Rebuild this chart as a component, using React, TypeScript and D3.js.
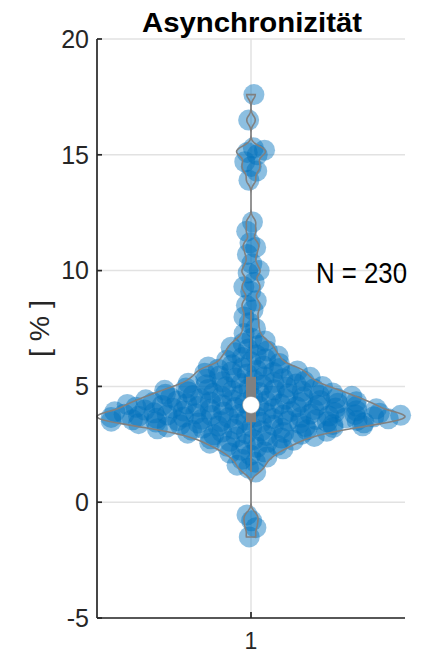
import React from 'react';
import * as d3 from 'd3';

const titleText = 'Asynchronizität';
const yLabelText = '[ % ]';
const nLabelText = 'N = 230';
const yTicks = [-5, 0, 5, 10, 15, 20];
const xTicks = [1];
const xTickLabels = ['1'];

const negValues = [-1.5, -1.1, -0.8, -0.55];
const lowValues = [
  1.3, 1.47, 1.6, 1.73, 1.85, 1.95, 2.04, 2.12,
  2.18, 2.24, 2.31, 2.37, 2.42, 2.46, 2.5, 2.55, 2.59, 2.63,
  2.67, 2.7, 2.74, 2.77, 2.81, 2.84, 2.88,
  2.91, 2.93, 2.96, 2.98, 3.01, 3.03, 3.06, 3.08, 3.11, 3.13,
  3.16, 3.17, 3.19, 3.2, 3.22, 3.24, 3.25, 3.27, 3.29, 3.3, 3.32, 3.34, 3.35, 3.37, 3.39,
  3.41, 3.42, 3.43, 3.45, 3.46, 3.47, 3.48, 3.5, 3.51, 3.52, 3.53, 3.55, 3.56, 3.57, 3.58, 3.6, 3.61, 3.62, 3.64,
];
const highValues = [
  3.65, 3.66, 3.67, 3.68, 3.69, 3.7, 3.71, 3.72, 3.74, 3.75, 3.76, 3.77, 3.78, 3.79, 3.8, 3.81, 3.82, 3.84, 3.85, 3.86, 3.87, 3.89,
  3.91, 3.92, 3.94, 3.95, 3.97, 3.98, 4.0, 4.01, 4.03, 4.04, 4.06, 4.07, 4.09, 4.1, 4.12, 4.13, 4.14,
  4.16, 4.18, 4.19, 4.21, 4.22, 4.24, 4.25, 4.27, 4.28, 4.3, 4.31, 4.33, 4.34, 4.36, 4.37, 4.39,
  4.41, 4.42, 4.44, 4.47, 4.49, 4.51, 4.52, 4.54, 4.56, 4.57, 4.59, 4.61, 4.62, 4.64,
  4.66, 4.68, 4.7, 4.72, 4.74, 4.77, 4.79, 4.81, 4.83, 4.85, 4.87, 4.89,
  4.91, 4.93, 4.96, 4.98, 5.0, 5.05, 5.07, 5.1, 5.12, 5.14,
  5.17, 5.2, 5.22, 5.28, 5.31, 5.33, 5.36, 5.39,
  5.42, 5.45, 5.48, 5.54, 5.57, 5.6, 5.63,
  5.67, 5.7, 5.74, 5.77, 5.8, 5.84, 5.88,
  5.93, 5.99, 6.06, 6.13,
  6.19, 6.25, 6.31, 6.37,
  6.45, 6.53, 6.61,
  6.69, 6.77, 6.86,
  6.96, 7.08,
  7.28, 7.5, 7.75,
];
const tailValues = [
  8.0, 8.3, 8.5, 8.7, 9.1, 9.3, 9.5, 9.9, 10.0, 10.3, 10.7, 11.0, 11.2, 11.7, 12.1,
  13.9, 14.3, 14.5, 14.7, 15.0, 15.1, 15.2, 15.3, 16.5, 17.6,
];

const BANDWIDTH = 0.18;
const BLUE = '#0072BD';
const GRAY = '#808080';
const AX = '#262626';
const FONT = '"Liberation Sans", Arial, Helvetica, sans-serif';

export default function App() {
  const values = [...negValues, ...lowValues, ...highValues, ...tailValues];
  const sorted = values.slice().sort(d3.ascending);
  const n = sorted.length;

  const x = d3.scaleLinear().domain([0.5, 1.5]).range([97, 405]);
  const y = d3.scaleLinear().domain([-5, 20]).range([618, 39]);

  const med = d3.median(sorted) as number;
  const bw = BANDWIDTH;
  const vmin = sorted[0];
  const vmax = sorted[n - 1];
  const NG = 600;
  const grid = d3.range(0, NG + 1).map((i) => vmin + ((vmax - vmin) * i) / NG);
  const dens = grid.map((g) => d3.sum(sorted, (v) => Math.exp(-0.5 * ((g - v) / bw) ** 2)));
  const dmax = d3.max(dens) as number;
  const halfW = 0.5;
  const wAt = (v: number) => {
    const t = ((v - vmin) / (vmax - vmin)) * NG;
    const i = Math.max(0, Math.min(NG - 1, Math.floor(t)));
    const f = t - i;
    return ((dens[i] * (1 - f) + dens[i + 1] * f) / dmax) * halfW;
  };

  const outlinePts: [number, number][] = [
    ...grid.map((g, i) => [x(1 - (dens[i] / dmax) * halfW), y(g)] as [number, number]),
    ...grid.slice().reverse().map((g, k) => {
      const i = grid.length - 1 - k;
      return [x(1 + (dens[i] / dmax) * halfW), y(g)] as [number, number];
    }),
  ];
  const outline = d3.line().curve(d3.curveLinearClosed)(outlinePts) || '';

  const q1 = d3.quantile(sorted, 0.25) as number;
  const q3 = d3.quantile(sorted, 0.75) as number;
  const iqr = q3 - q1;
  const upW = d3.max(sorted.filter((v) => v <= q3 + 1.5 * iqr)) as number;
  const loW = d3.min(sorted.filter((v) => v >= q1 - 1.5 * iqr)) as number;

  const golden = 0.6180339887;
  const pts = sorted.map((v, i) => {
    const j = ((i * golden + 0.31) % 1) * 2 - 1;
    return { cx: x(1 + j * wAt(v)), cy: y(v) };
  });

  const x0 = x(0.5), x1 = x(1.5), yTop = y(20), yBot = y(-5);

  return (
    <svg width={422} height={652} style={{ position: 'absolute', left: 0, top: 0, background: '#fff' }}>
      <rect x={0} y={0} width={422} height={652} fill="#fff" />
      {yTicks.map((t) => (
        <line key={'gy' + t} x1={x0} x2={x1} y1={y(t)} y2={y(t)} stroke="#e2e2e2" strokeWidth={1.5} />
      ))}
      {xTicks.map((t) => (
        <line key={'gx' + t} x1={x(t)} x2={x(t)} y1={yTop} y2={yBot} stroke="#e2e2e2" strokeWidth={1.5} />
      ))}
      <g>
        {pts.map((p, i) => (
          <circle key={i} cx={p.cx} cy={p.cy} r={10.5} fill={BLUE} fillOpacity={0.45} />
        ))}
      </g>
      <path d={outline} fill="none" stroke={GRAY} strokeWidth={1.6} />
      <line x1={x(1)} x2={x(1)} y1={y(upW)} y2={y(loW)} stroke={GRAY} strokeWidth={2} />
      <rect x={x(1) - 5} y={y(q3)} width={10} height={y(q1) - y(q3)} fill={GRAY} />
      <circle cx={x(1)} cy={y(med)} r={8.5} fill="#fff" stroke={GRAY} strokeWidth={0.5} />

      <line x1={x0} x2={x0} y1={yTop} y2={yBot} stroke={AX} strokeWidth={1.7} />
      <line x1={x0} x2={x1} y1={yBot} y2={yBot} stroke={AX} strokeWidth={1.7} />
      {yTicks.map((t) => (
        <g key={'ty' + t}>
          <line x1={x0} x2={x0 + 5} y1={y(t)} y2={y(t)} stroke={AX} strokeWidth={1.7} />
          <text x={x0 - 8} y={y(t)} dy="0.35em" textAnchor="end" fontFamily={FONT} fontSize={25} fill={AX}>
            {t}
          </text>
        </g>
      ))}
      {xTicks.map((t, i) => (
        <g key={'tx' + t}>
          <line x1={x(t)} x2={x(t)} y1={yBot} y2={yBot - 6} stroke={AX} strokeWidth={1.7} />
          <text x={x(t)} y={649} textAnchor="middle" fontFamily={FONT} fontSize={23} fill={AX}>
            {xTickLabels[i]}
          </text>
        </g>
      ))}
      <text x={252} y={32} textAnchor="middle" fontFamily={FONT} fontWeight="bold" fontSize={28} fill="#000" textLength={220} lengthAdjust="spacingAndGlyphs">
        {titleText}
      </text>
      <text transform={`translate(49,${(yTop + yBot) / 2}) rotate(-90)`} textAnchor="middle" fontFamily={FONT} fontSize={28} fill={AX} textLength={57} lengthAdjust="spacingAndGlyphs">
        {yLabelText}
      </text>
      <text x={316} y={283} fontFamily={FONT} fontSize={30} fill="#000" textLength={91} lengthAdjust="spacingAndGlyphs">
        {nLabelText}
      </text>
    </svg>
  );
}
